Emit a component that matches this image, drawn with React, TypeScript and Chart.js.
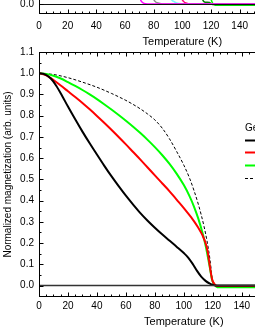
import React, { useEffect, useRef } from "react";
import { Chart, registerables } from "chart.js";

Chart.register(...registerables);

const FONT = "'Liberation Sans', Arial, Helvetica, sans-serif";

// ---------- shared axis ticks ----------
const xTickValues = [0, 20, 40, 60, 80, 100, 120, 140, 160, 180, 200];
const yTickValues = [0, 0.1, 0.2, 0.3, 0.4, 0.5, 0.6, 0.7, 0.8, 0.9, 1.0, 1.1];

// ---------- bottom panel data ----------
const tBlack = [0, 4, 8, 12, 16, 20, 25, 30, 35, 40, 45, 50, 55, 60, 65, 70, 75, 80, 85, 90, 95, 100, 103, 106, 109, 112, 115, 118, 120, 122, 130, 150, 200];
const mBlack = [1.0, 0.995, 0.976, 0.94, 0.893, 0.843, 0.783, 0.725, 0.67, 0.617, 0.565, 0.515, 0.468, 0.423, 0.381, 0.341, 0.305, 0.272, 0.241, 0.212, 0.183, 0.153, 0.132, 0.103, 0.07, 0.042, 0.022, 0.009, 0.003, 0.0, 0.0, 0.0, 0.0];

const tRed = [0, 5, 10, 15, 20, 25, 30, 35, 40, 45, 50, 55, 60, 65, 70, 75, 80, 85, 90, 95, 100, 105, 110, 113, 115, 116.5, 118, 119.5, 121, 123, 150, 200];
const mRed = [1.0, 0.99, 0.968, 0.942, 0.915, 0.888, 0.86, 0.83, 0.799, 0.767, 0.734, 0.7, 0.665, 0.629, 0.593, 0.556, 0.519, 0.482, 0.445, 0.405, 0.365, 0.322, 0.272, 0.235, 0.2, 0.158, 0.09, 0.03, 0.008, -0.002, -0.002, -0.002];

const tGreen = [0, 5, 10, 15, 20, 25, 30, 35, 40, 45, 50, 55, 60, 65, 70, 75, 80, 85, 90, 95, 100, 104, 107, 110, 113, 115, 117, 118, 119.4, 121, 123, 150, 200];
const mGreen = [1.0, 0.997, 0.988, 0.975, 0.958, 0.94, 0.921, 0.9, 0.878, 0.854, 0.829, 0.803, 0.776, 0.748, 0.718, 0.686, 0.652, 0.615, 0.574, 0.527, 0.473, 0.42, 0.372, 0.315, 0.245, 0.19, 0.12, 0.083, 0.03, 0.006, -0.008, -0.008, -0.008];

const tDash = [0, 10, 20, 30, 40, 50, 55, 60, 65, 70, 75, 80, 85, 90, 95, 100, 104, 107, 110, 112, 114, 116, 118, 119.5, 120];
const mDash = [1.0, 0.994, 0.979, 0.958, 0.934, 0.905, 0.889, 0.872, 0.853, 0.832, 0.808, 0.78, 0.742, 0.692, 0.632, 0.567, 0.505, 0.448, 0.383, 0.333, 0.277, 0.21, 0.125, 0.035, 0.0];

const tZero = [0, 200];
const mZero = [0, 0];

const legendTitle = "Ge content";
const legendLabels = ["x = 0.05", "x = 0.10", "x = 0.15", "Mean field"];

// ---------- top panel data (only the tails near zero are in view) ----------
const tMagenta = [50, 62, 67, 69.5, 70.7, 72, 74, 78, 200];
const mMagenta = [0.85, 0.55, 0.28, 0.1, 0.03, 0.012, 0.004, 0.002, 0.002];
const tGray = [60, 72, 77, 79, 81, 83, 86, 90, 200];
const mGray = [0.8, 0.45, 0.18, 0.05, 0.016, 0.008, 0.003, 0.002, 0.002];
const tCyan = [70, 84, 89, 91.4, 94, 96, 100, 104, 200];
const mCyan = [0.8, 0.42, 0.17, 0.04, 0.016, 0.008, 0.003, 0.002, 0.002];
const tPink = [80, 93, 97.5, 99.5, 101, 103, 106, 110, 200];
const mPink = [0.8, 0.42, 0.15, 0.035, 0.015, 0.007, 0.003, 0.002, 0.002];
const tDarkGreen = [95, 107, 112, 113.5, 114.5, 116, 119, 120, 121, 200];
const mDarkGreen = [0.8, 0.4, 0.15, 0.05, 0.02, 0.012, 0.01, 0.004, 0.0, 0.0];
const tBrightGreen = [100, 112, 117.5, 119, 120, 121, 123, 200];
const mBrightGreen = [0.8, 0.4, 0.2, 0.08, 0.03, 0.008, -0.004, -0.004];

const pts = (ts: number[], vs: number[]) => ts.map((t, i) => ({ x: t, y: vs[i] }));

const frameTicksPlugin = {
  id: "frameTicks",
  afterDatasetsDraw(chart: any) {
    const { ctx, chartArea: a, scales } = chart;
    const xs = scales.x;
    const ys = scales.y;
    const L = Math.round(a.left) + 0.5;
    const R = Math.round(a.right) - 0.5;
    const T = Math.round(a.top) + 0.5;
    const B = Math.round(a.bottom) - 0.5;
    ctx.save();
    ctx.strokeStyle = "#000";
    ctx.lineWidth = 1;
    ctx.strokeRect(L, T, R - L, B - T);
    ctx.beginPath();
    for (let i = 0; i <= 40; i++) {
      const v = i * 5;
      const p = Math.round(xs.getPixelForValue(v)) + 0.5;
      const len = i % 4 === 0 ? 4 : 2;
      ctx.moveTo(p, B);
      ctx.lineTo(p, B - len);
      ctx.moveTo(p, T);
      ctx.lineTo(p, T + len);
    }
    for (let i = 0; i <= 22; i++) {
      const v = i * 0.05;
      const p = Math.round(ys.getPixelForValue(v)) + 0.5;
      const len = i % 2 === 0 ? 4 : 2;
      ctx.moveTo(L, p);
      ctx.lineTo(L + len, p);
      ctx.moveTo(R, p);
      ctx.lineTo(R - len, p);
    }
    ctx.stroke();
    ctx.restore();
  },
};

const insideLegendPlugin = {
  id: "insideLegend",
  afterDatasetsDraw(chart: any) {
    const { ctx, chartArea: a } = chart;
    const x0 = a.left + 206;
    const yTitle = a.top + 76;
    ctx.save();
    ctx.font = `10px ${FONT}`;
    ctx.fillStyle = "#000";
    ctx.textBaseline = "middle";
    ctx.textAlign = "left";
    ctx.fillText(legendTitle, x0, yTitle);
    const ds = chart.data.datasets.filter((d: any) => d.label);
    ds.forEach((d: any, i: number) => {
      const y = Math.round(yTitle + 11.5 + i * 12.7) + 0.5;
      ctx.beginPath();
      ctx.strokeStyle = d.borderColor;
      ctx.lineWidth = d.borderWidth;
      ctx.setLineDash(d.borderDash || []);
      ctx.moveTo(x0, y);
      ctx.lineTo(x0 + 22, y);
      ctx.stroke();
      ctx.setLineDash([]);
      ctx.fillText(d.label, x0 + 27, y);
    });
    ctx.restore();
  },
};

function baseScales(opts: {
  yMin: number;
  xHeight: number;
  labelPad: number;
  titleBottom: number;
}) {
  return {
    x: {
      type: "linear" as const,
      min: 0,
      max: 200,
      grid: { display: false, drawTicks: false },
      border: { display: false },
      afterBuildTicks: (s: any) => {
        s.ticks = xTickValues.map((v) => ({ value: v }));
      },
      afterFit: (s: any) => {
        s.height = opts.xHeight;
      },
      ticks: {
        autoSkip: false,
        maxRotation: 0,
        padding: opts.labelPad,
        color: "#000",
        font: { family: FONT, size: 10 },
        callback: (v: any) => String(v),
      },
      title: {
        display: true,
        text: "Temperature (K)",
        color: "#000",
        font: { family: FONT, size: 11 },
        padding: { top: 0, bottom: opts.titleBottom },
      },
    },
    y: {
      type: "linear" as const,
      min: opts.yMin,
      max: 1.1,
      grid: { display: false, drawTicks: false },
      border: { display: false },
      afterBuildTicks: (s: any) => {
        s.ticks = yTickValues.map((v) => ({ value: v }));
      },
      afterFit: (s: any) => {
        s.width = 39;
      },
      ticks: {
        autoSkip: false,
        padding: 5,
        color: "#000",
        font: { family: FONT, size: 10 },
        callback: (v: any) => Number(v).toFixed(1),
      },
      title: {
        display: true,
        text: "Normalized magnetization (arb. units)",
        color: "#000",
        font: { family: FONT, size: 10 },
        padding: { top: 2, bottom: 0 },
      },
    },
  };
}

const line = (data: any, color: string, width: number, label = "", dash: number[] = []) => ({
  label,
  data,
  borderColor: color,
  backgroundColor: color,
  borderWidth: width,
  borderDash: dash,
  pointRadius: 0,
  fill: false,
  cubicInterpolationMode: "monotone" as const,
});

function bottomConfig(): any {
  return {
    type: "line",
    data: {
      datasets: [
        line(pts(tZero, mZero), "#333333", 1.5),
        line(pts(tBlack, mBlack), "#000000", 2, legendLabels[0]),
        line(pts(tRed, mRed), "#ff0000", 2, legendLabels[1]),
        line(pts(tGreen, mGreen), "#00ff00", 2, legendLabels[2]),
        line(pts(tDash, mDash), "#000000", 1, legendLabels[3], [3, 2]),
      ],
    },
    options: {
      animation: false,
      responsive: false,
      layout: { padding: { top: 12, right: 8, left: 0, bottom: 0 } },
      plugins: { legend: { display: false }, tooltip: { enabled: false } },
      scales: baseScales({ yMin: -0.054, xHeight: 33, labelPad: 3, titleBottom: 1 }),
    },
    plugins: [frameTicksPlugin, insideLegendPlugin],
  };
}

function topConfig(): any {
  return {
    type: "line",
    data: {
      datasets: [
        line(pts(tZero, mZero), "#111111", 1.2),
        line(pts(tMagenta, mMagenta), "#ff00ff", 1.5),
        line(pts(tGray, mGray), "#8c8c8c", 1.5),
        line(pts(tCyan, mCyan), "#7ff7ff", 1.5),
        line(pts(tPink, mPink), "#ff0a78", 1.5),
        line(pts(tDarkGreen, mDarkGreen), "#008000", 1.5),
        line(pts(tBrightGreen, mBrightGreen), "#00ff00", 1.5),
      ],
    },
    options: {
      animation: false,
      responsive: false,
      layout: { padding: { top: 10, right: 8, left: 0, bottom: 0 } },
      plugins: { legend: { display: false }, tooltip: { enabled: false } },
      scales: baseScales({ yMin: -0.05, xHeight: 36, labelPad: 6, titleBottom: 1 }),
    },
    plugins: [frameTicksPlugin],
  };
}

export default function App() {
  const topRef = useRef<HTMLCanvasElement>(null);
  const botRef = useRef<HTMLCanvasElement>(null);
  useEffect(() => {
    const c1 = new Chart(topRef.current as HTMLCanvasElement, topConfig());
    const c2 = new Chart(botRef.current as HTMLCanvasElement, bottomConfig());
    return () => {
      c1.destroy();
      c2.destroy();
    };
  }, []);
  return (
    <div
      style={{
        position: "fixed",
        left: 0,
        top: 0,
        width: 255,
        height: 330,
        overflow: "hidden",
        background: "#fff",
      }}
    >
      <canvas
        ref={topRef}
        width={340}
        height={266}
        style={{ position: "absolute", left: 0, top: -216, display: "block" }}
      />
      <canvas
        ref={botRef}
        width={340}
        height={290}
        style={{ position: "absolute", left: 0, top: 40, display: "block" }}
      />
    </div>
  );
}
